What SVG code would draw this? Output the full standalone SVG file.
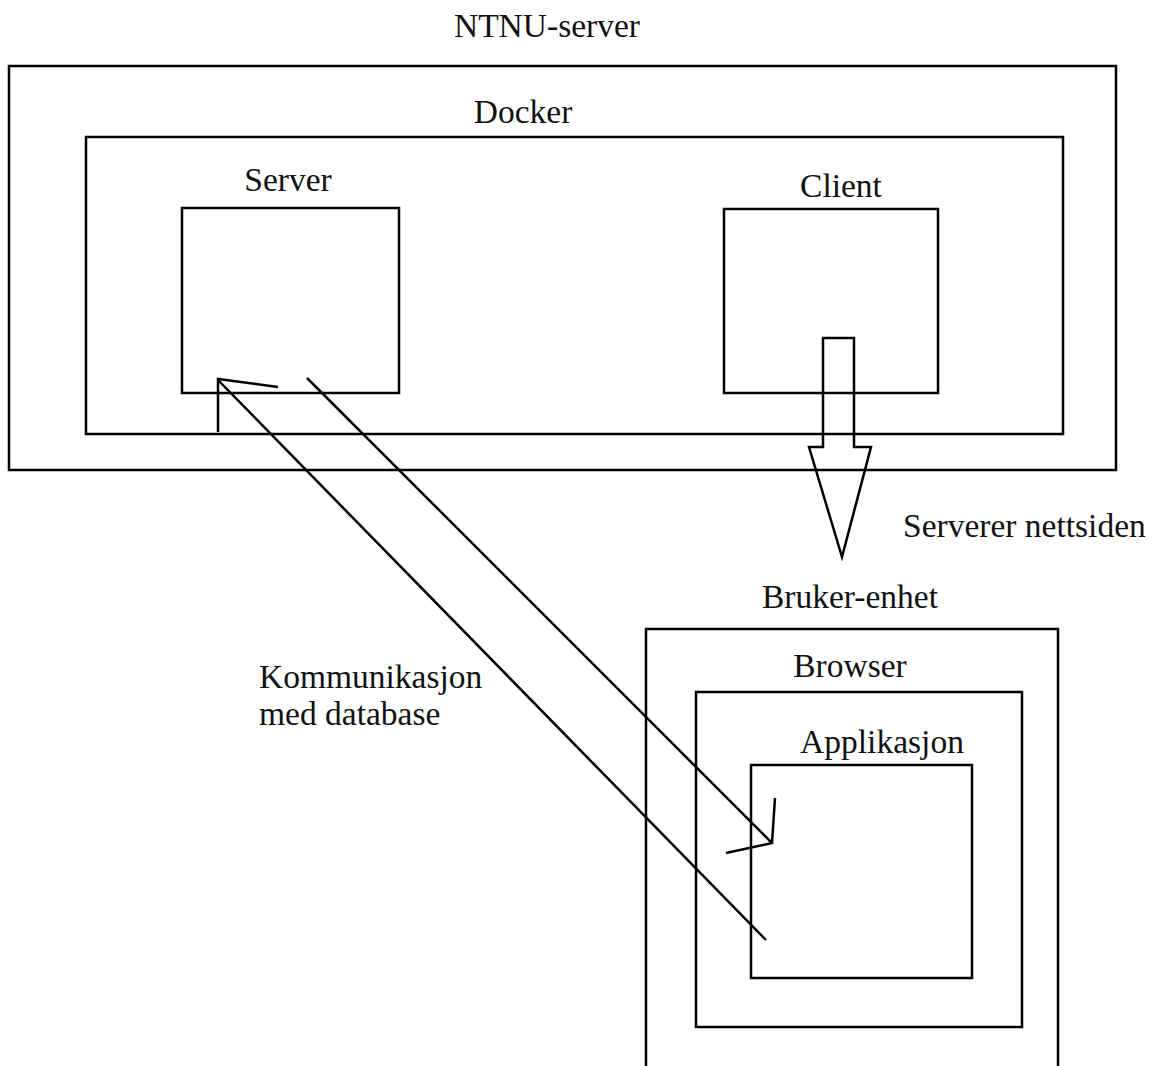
<svg xmlns="http://www.w3.org/2000/svg" width="1153" height="1066" viewBox="0 0 1153 1066">
<style>
.box{fill:none;stroke:#000;stroke-width:2.5}
.ln{fill:none;stroke:#000;stroke-width:2.5;stroke-linejoin:miter}
text{font-family:"Liberation Serif","Times New Roman",serif;font-size:33.5px;fill:#111}
</style>
<rect width="1153" height="1066" fill="#fff"/>
<g id="ntnu-server">
<rect class="box" x="9" y="66" width="1107" height="404"/>
<text x="547" y="37" text-anchor="middle">NTNU-server</text>
</g>
<g id="docker">
<rect class="box" x="86" y="137" width="977" height="297"/>
<text x="523" y="123" text-anchor="middle">Docker</text>
</g>
<g id="server">
<rect class="box" x="182" y="208" width="217" height="185"/>
<text x="288" y="191" text-anchor="middle">Server</text>
</g>
<g id="client">
<rect class="box" x="724" y="209" width="214" height="184"/>
<text x="841" y="197" text-anchor="middle">Client</text>
</g>
<g id="bruker-enhet">
<polyline class="box" points="646,1066 646,629 1058,629 1058,1066"/>
<text x="850" y="608" text-anchor="middle">Bruker-enhet</text>
</g>
<g id="browser">
<rect class="box" x="696" y="692" width="326" height="335"/>
<text x="850" y="677" text-anchor="middle">Browser</text>
</g>
<g id="applikasjon">
<rect class="box" x="751" y="765" width="221" height="213"/>
<text x="882" y="753" text-anchor="middle">Applikasjon</text>
</g>
<g id="connectors">
<polygon class="ln" points="823,338 854,338 854,447 871,447 842,557 809,447 823,447"/>
<line class="ln" x1="218" y1="380" x2="766" y2="940"/>
<polyline class="ln" points="278,387 218,379 218,432"/>
<line class="ln" x1="307" y1="378" x2="772" y2="843"/>
<polyline class="ln" points="775,798 772,843 726,853"/>
</g>
<g id="labels">
<text x="903" y="537">Serverer nettsiden</text>
<text x="259" y="688">Kommunikasjon</text>
<text x="259" y="725">med database</text>
</g>
</svg>
